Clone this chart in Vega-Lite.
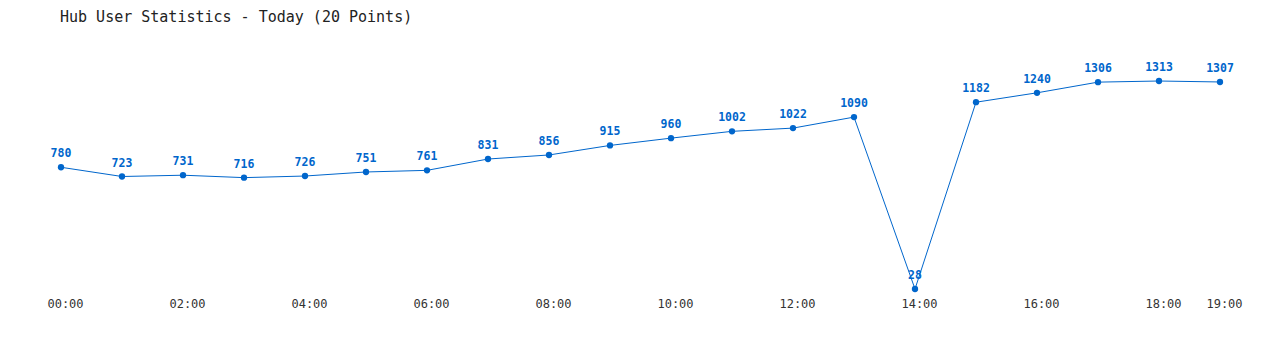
{
  "$schema": "https://vega.github.io/schema/vega-lite/v6.json",
  "autosize": "none",
  "width": 1159,
  "height": 208,
  "padding": {"left": 61, "top": 81, "right": 60, "bottom": 61},
  "background": "white",
  "title": {
    "text": "Hub User Statistics - Today (20 Points)",
    "anchor": "start",
    "frame": "group",
    "font": "DejaVu Sans Mono",
    "fontSize": 15,
    "fontWeight": "normal",
    "color": "#222222",
    "offset": 37,
    "dx": -1
  },
  "data": {
    "values": [
      {"time": "00:00", "users": 780},
      {"time": "01:00", "users": 723},
      {"time": "02:00", "users": 731},
      {"time": "03:00", "users": 716},
      {"time": "04:00", "users": 726},
      {"time": "05:00", "users": 751},
      {"time": "06:00", "users": 761},
      {"time": "07:00", "users": 831},
      {"time": "08:00", "users": 856},
      {"time": "09:00", "users": 915},
      {"time": "10:00", "users": 960},
      {"time": "11:00", "users": 1002},
      {"time": "12:00", "users": 1022},
      {"time": "13:00", "users": 1090},
      {"time": "14:00", "users": 28},
      {"time": "15:00", "users": 1182},
      {"time": "16:00", "users": 1240},
      {"time": "17:00", "users": 1306},
      {"time": "18:00", "users": 1313},
      {"time": "19:00", "users": 1307}
    ]
  },
  "encoding": {
    "x": {
      "field": "time",
      "type": "ordinal",
      "scale": {"type": "point", "padding": 0},
      "axis": {
        "title": null,
        "values": ["00:00", "02:00", "04:00", "06:00", "08:00", "10:00", "12:00", "14:00", "16:00", "18:00", "19:00"],
        "labelAngle": 0,
        "domain": false,
        "ticks": false,
        "grid": false,
        "labelFont": "DejaVu Sans Mono",
        "labelFontSize": 12,
        "labelColor": "#333333",
        "labelPadding": 9,
        "labelOffset": 4
      }
    },
    "y": {
      "field": "users",
      "type": "quantitative",
      "scale": {"domain": [28, 1313], "zero": false, "nice": false},
      "axis": null
    }
  },
  "layer": [
    {"mark": {"type": "line", "color": "#0066cc", "strokeWidth": 1}},
    {"mark": {"type": "point", "filled": true, "color": "#0066cc", "size": 40, "opacity": 1}},
    {
      "mark": {"type": "text", "color": "#0066cc", "font": "DejaVu Sans Mono", "fontSize": 11.5, "fontWeight": "bold", "baseline": "bottom", "dy": -8},
      "encoding": {"text": {"field": "users", "type": "quantitative"}}
    }
  ],
  "config": {"view": {"stroke": null}}
}
